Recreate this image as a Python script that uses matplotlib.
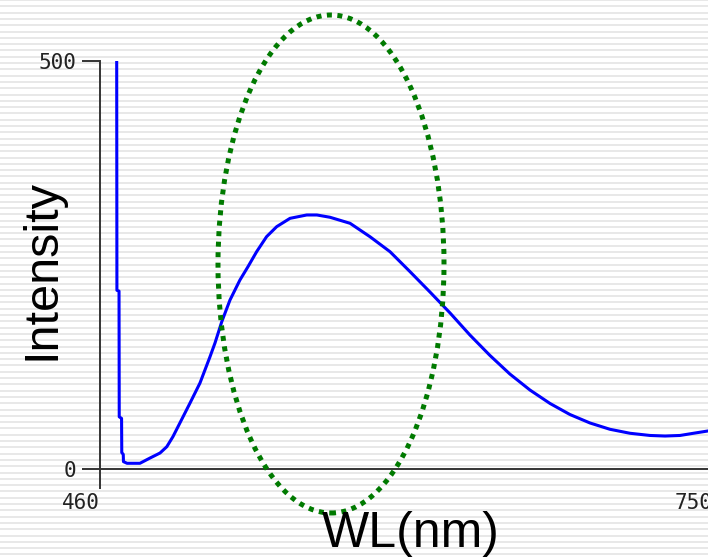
import numpy as np
import matplotlib
matplotlib.use("Agg")
import matplotlib.pyplot as plt
from matplotlib.patches import Ellipse, Rectangle

# spectrum (wavelength nm, intensity)
wl = [467.9, 468.0, 469.0, 469.1, 470.2, 470.3, 471.0, 471.1, 472.8, 478.9,
      483.7, 488.4, 491.6, 494.5, 497.8, 502.6, 507.3, 512.0, 514.4, 517.6,
      521.5, 526.2, 530.0, 534.1, 538.8, 543.6, 549.9, 557.8, 562.6, 568.8,
      578.3, 587.7, 597.2, 606.6, 616.1, 625.6, 635.0, 644.5, 653.9, 663.4,
      672.9, 682.3, 691.8, 701.2, 710.7, 720.2, 727.3, 734.4, 741.5, 747.6]
intensity = [500, 219, 218, 64, 62, 20, 18, 9, 7, 7,
             13.5, 19.6, 27.3, 39.6, 56.4, 80.9, 105.4, 137.3, 154.4, 180.5,
             207.1, 231.6, 247.9, 266.3, 284.7, 297.0, 307.2, 311.3, 311.3, 308.5,
             301.1, 284.7, 266.3, 242.0, 216.9, 191.2, 164.2, 139.1, 116.4, 96.8,
             80.3, 66.8, 56.4, 48.7, 43.8, 41.1, 40.4, 41.1, 44.1, 46.6]

x_ticks = [460, 750]
y_ticks = [0, 500]

W, H = 708, 558
fig = plt.figure(figsize=(W / 100, H / 100), dpi=100)
fig.patch.set_facecolor("white")

# striped slide background with white panel
bg = fig.add_axes([0, 0, 1, 1], zorder=-10)
bg.set_xlim(0, W)
bg.set_ylim(H, 0)
bg.axis("off")
for yy in np.arange(0, H + 1, 6.3):
    bg.axhline(yy, color="#e1e1e1", lw=1.1)
bg.add_patch(Rectangle((35, 45.5), W - 35, 475, facecolor="white", edgecolor="none"))

# main plot, 460 at x=100px and 750 at ~713px, 0 at y=469px, 500 at y=61px
ax = fig.add_axes([100 / W, (H - 469) / H, 613 / W, 408 / H])
ax.patch.set_alpha(0)
ax.plot(wl, intensity, color="#0000ff", lw=2.2)
ax.set_xlim(460, 750)
ax.set_ylim(0, 500)
for s in ["top", "right"]:
    ax.spines[s].set_visible(False)
for s in ["left", "bottom"]:
    ax.spines[s].set_color("#333333")
    ax.spines[s].set_linewidth(1.4)
ax.set_xticks(x_ticks)
ax.set_yticks(y_ticks)
ax.set_xticklabels([str(v) for v in x_ticks])
ax.set_yticklabels([str(v) for v in y_ticks])
ax.tick_params(axis="y", length=13, width=1.4, color="#333333", pad=4,
               labelsize=15, labelcolor="#222222")
ax.tick_params(axis="x", length=14.5, width=1.4, color="#333333", pad=2.5,
               labelsize=15, labelcolor="#222222")
for lab in ax.get_xticklabels() + ax.get_yticklabels():
    lab.set_fontfamily("DejaVu Sans Mono")
for lab in ax.get_xticklabels():
    lab.set_ha("right")

fig.text(42 / W, (H - 270) / H, "Intensity", rotation=90, ha="center", va="center",
         fontsize=35, family="Liberation Sans", color="black")
fig.text(411 / W, (H - 547) / H, "WL(nm)", ha="center", va="baseline",
         fontsize=36, family="Liberation Sans", color="black")

# dotted highlight ellipse
ell = Ellipse((331 / W, (H - 264) / H), 226 / W, 498 / H, transform=fig.transFigure,
              fill=False, edgecolor="#007a00", lw=3.6, linestyle=(0, (1, 1.1)))
fig.add_artist(ell)

fig.savefig("out.png", dpi=100)
